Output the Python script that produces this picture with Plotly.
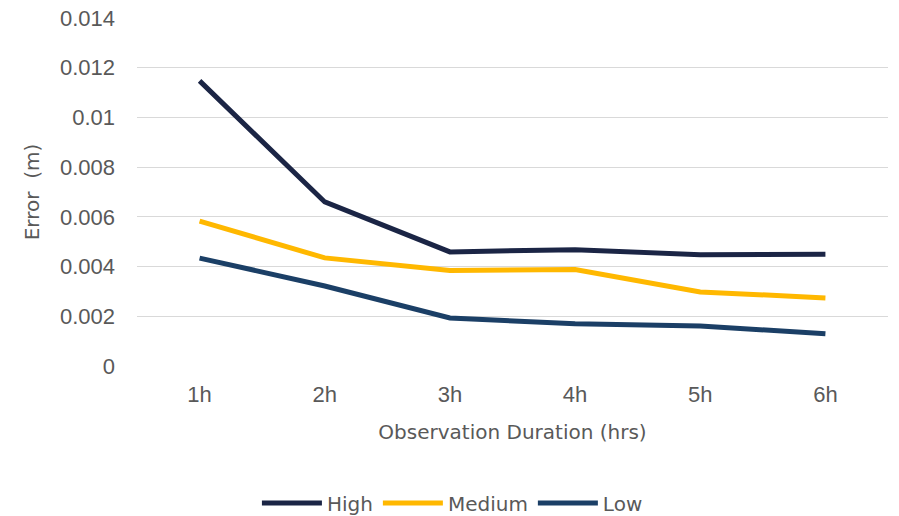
import plotly.graph_objects as go

durations = ["1h", "2h", "3h", "4h", "5h", "6h"]
high = [0.01147, 0.0066, 0.00459, 0.00468, 0.00448, 0.0045]
medium = [0.00583, 0.00435, 0.00384, 0.00388, 0.00298, 0.00274]
low = [0.00434, 0.00322, 0.00193, 0.0017, 0.00161, 0.0013]

y_ticks = [0, 0.002, 0.004, 0.006, 0.008, 0.01, 0.012, 0.014]
y_tick_labels = ["0", "0.002", "0.004", "0.006", "0.008", "0.01", "0.012", "0.014"]

series = [
    ("High", high, "#1b2545"),
    ("Medium", medium, "#ffb800"),
    ("Low", low, "#1b3f66"),
]

TEXT_FONT = "DejaVu Sans, sans-serif"
TICK_FONT = "Liberation Sans, Arial, sans-serif"
GREY = "#595959"

fig = go.Figure()
for name, vals, color in series:
    fig.add_trace(go.Scatter(
        x=durations, y=vals, name=name, mode="lines",
        line=dict(color=color, width=5),
    ))

fig.update_layout(
    width=899, height=516,
    margin=dict(l=137, r=11, t=18, b=150, autoexpand=False),
    paper_bgcolor="white", plot_bgcolor="white",
    font=dict(family=TEXT_FONT, size=20, color=GREY),
    showlegend=True,
    legend=dict(
        orientation="h", x=0.42, xanchor="center",
        y=-0.394, yanchor="middle",
        font=dict(family=TEXT_FONT, size=20, color=GREY),
        itemwidth=60,
    ),
    xaxis=dict(
        range=[-0.5, 5.5],
        showgrid=False, zeroline=False, showline=False,
        ticks="", ticklabelstandoff=13,
        tickfont=dict(family=TICK_FONT, size=22, color=GREY),
        title=dict(text="Observation Duration (hrs)",
                   font=dict(family=TEXT_FONT, size=20, color=GREY), standoff=18),
    ),
    yaxis=dict(
        range=[0, 0.014], tickvals=y_ticks, ticktext=y_tick_labels,
        showgrid=True, gridcolor="#d9d9d9", gridwidth=1,
        zeroline=False, showline=False, ticks="",
        ticklabelstandoff=21,
        tickfont=dict(family=TICK_FONT, size=22, color=GREY),
        title=dict(text="Error  (m)",
                   font=dict(family=TEXT_FONT, size=20, color=GREY), standoff=14),
    ),
)

fig.write_html("out.html")
